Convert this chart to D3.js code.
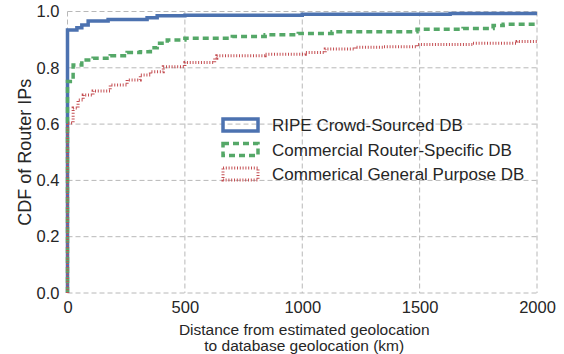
<!DOCTYPE html>
<html>
<head>
<meta charset="utf-8">
<script src="https://cdn.jsdelivr.net/npm/d3@7"></script>
<style>
  body { margin: 0; background: #fff; }
  text { font-family: "Liberation Sans", Arial, sans-serif; fill: #262626; }
</style>
</head>
<body>
<div id="chart"></div>
<script>
const svgWidth = 564;
const svgHeight = 354;
const margin = { top: 11.5, right: 27, bottom: 61, left: 67.5 };
const width = svgWidth - margin.left - margin.right;
const height = svgHeight - margin.top - margin.bottom;

// [distance km, cdf]
const ripe = [[0, 0], [0, 0.934], [40, 0.942], [61, 0.952], [88, 0.966], [173, 0.972], [339, 0.978],
  [382, 0.985], [500, 0.987], [1000, 0.99], [1630, 0.993], [2000, 0.993]];
const routerSpecific = [[0, 0], [0, 0.751], [24, 0.81], [61, 0.828], [109, 0.834], [182, 0.843], [254, 0.854],
  [310, 0.857], [353, 0.871], [382, 0.887], [425, 0.899], [500, 0.905], [702, 0.911], [842, 0.917],
  [983, 0.922], [1127, 0.928], [1489, 0.937], [1685, 0.94], [1813, 0.95], [1856, 0.955], [2000, 0.955]];
const generalPurpose = [[0, 0], [0, 0.604], [24, 0.657], [45, 0.686], [67, 0.703], [109, 0.718], [182, 0.739],
  [254, 0.757], [310, 0.774], [353, 0.786], [408, 0.804], [500, 0.819], [627, 0.834], [636, 0.843],
  [842, 0.848], [1013, 0.854], [1098, 0.867], [1225, 0.873], [1344, 0.875], [1489, 0.883], [1727, 0.887],
  [1915, 0.893], [2000, 0.894]];

const xticks = [0, 500, 1000, 1500, 2000];
const yticks = [0, 0.2, 0.4, 0.6, 0.8, 1.0];

const series = [
  { name: "RIPE Crowd-Sourced DB", data: ripe, color: "#4c72b0", w: 3.5, dash: null },
  { name: "Commercial Router-Specific DB", data: routerSpecific, color: "#55a868", w: 3.5, dash: "6,4" },
  { name: "Commerical General Purpose DB", data: generalPurpose, color: "#c44e52", w: 3, dash: "1,1.8" }
];

let svg = d3.select("#chart").append("svg").attr("width", svgWidth).attr("height", svgHeight);
let chrtgrp = svg.append("g").attr("transform", `translate(${margin.left}, ${margin.top})`);

let x = d3.scaleLinear().domain([0, 2000]).range([0, width]);
let y = d3.scaleLinear().domain([0, 1]).range([height, 0]);

// grid
chrtgrp.append("g")
  .selectAll("line.vg")
  .data(xticks)
  .enter().append("line")
  .attr("x1", d => x(d)).attr("x2", d => x(d))
  .attr("y1", 0).attr("y2", height)
  .attr("stroke", "#b8b8b8").attr("stroke-width", 1).attr("stroke-dasharray", "5,3");
chrtgrp.append("g")
  .selectAll("line.hg")
  .data(yticks)
  .enter().append("line")
  .attr("y1", d => y(d)).attr("y2", d => y(d))
  .attr("x1", 0).attr("x2", width)
  .attr("stroke", "#b8b8b8").attr("stroke-width", 1).attr("stroke-dasharray", "5,3");

// axes (labels only)
let xAxis = chrtgrp.append("g")
  .attr("transform", `translate(0, ${height})`)
  .call(d3.axisBottom(x).tickValues(xticks).tickFormat(d3.format("d")).tickSize(0).tickPadding(8));
let yAxis = chrtgrp.append("g")
  .call(d3.axisLeft(y).tickValues(yticks).tickFormat(d3.format(".1f")).tickSize(0).tickPadding(8));
[xAxis, yAxis].forEach(a => {
  a.select(".domain").remove();
  a.selectAll("text").attr("font-size", 16.5).attr("font-family", "Liberation Sans, Arial, sans-serif").attr("fill", "#262626");
});

// lines
let line = d3.line().x(d => x(d[0])).y(d => y(d[1])).curve(d3.curveStepAfter);
series.forEach(s => {
  chrtgrp.append("path")
    .datum(s.data)
    .attr("d", line)
    .attr("fill", "none")
    .attr("stroke", s.color)
    .attr("stroke-width", s.w)
    .attr("stroke-dasharray", s.dash);
});

// legend
let lgd = svg.append("g").attr("transform", "translate(223, 119)");
series.forEach((s, i) => {
  let g = lgd.append("g").attr("transform", `translate(0, ${i * 24.5})`);
  g.append("rect")
    .attr("x", 0).attr("y", 0).attr("width", 35).attr("height", 12)
    .attr("fill", "none")
    .attr("stroke", s.color)
    .attr("stroke-width", s.w)
    .attr("stroke-dasharray", s.dash);
  g.append("text")
    .attr("x", 49).attr("y", 12)
    .attr("font-size", 17)
    .text(s.name);
});

// axis titles
svg.append("text")
  .attr("x", margin.left + width / 2 + 2).attr("y", 335)
  .attr("text-anchor", "middle").attr("font-size", 15.5)
  .text("Distance from estimated geolocation");
svg.append("text")
  .attr("x", margin.left + width / 2 + 2).attr("y", 351)
  .attr("text-anchor", "middle").attr("font-size", 15.5)
  .text("to database geolocation (km)");
svg.append("text")
  .attr("transform", `translate(31, ${margin.top + height / 2}) rotate(-90)`)
  .attr("text-anchor", "middle").attr("font-size", 18)
  .text("CDF of Router IPs");
</script>
</body>
</html>
